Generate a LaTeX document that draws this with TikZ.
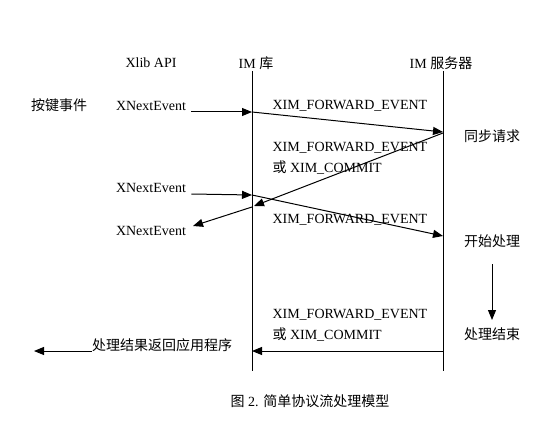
\documentclass[tikz,border=0pt]{standalone}
\usepackage{fontspec}
\setmainfont{Liberation Serif}
\newfontfamily\cjk{Noto Sans CJK SC}
\usetikzlibrary{arrows.meta}

\begin{document}
\begin{tikzpicture}[x=0.75pt, y=-0.75pt, line width=0.75pt,
    msg/.style={-{Triangle[length=7.5pt,width=6pt]}},
    lbl/.style={font=\fontsize{10.5}{12}\selectfont, inner sep=0pt},
    tag/.style={lbl, anchor=west}]
  \useasboundingbox (0,0) rectangle (548,420);

  \coordinate (libtop) at (252,71);
  \coordinate (libbot) at (252,371);
  \coordinate (srvtop) at (443,71);
  \coordinate (srvbot) at (443,371);

  \coordinate (lib1) at (252,112);
  \coordinate (srv1) at (443,132);
  \coordinate (srv2) at (443,133);
  \coordinate (lib2) at (254,206);
  \coordinate (lib3) at (252,195);
  \coordinate (srv3) at (443,236);
  \coordinate (lib4) at (252,207);
  \coordinate (xlib4) at (193,226);
  \coordinate (srv5) at (443,351);
  \coordinate (lib5) at (252,351);
  \coordinate (appout) at (34,351);
  \coordinate (procA) at (492,264);
  \coordinate (procB) at (492,320);

  \node[lbl] (xlib) at (151,63) {Xlib API};
  \node[lbl] (imlib) at (256,63) {IM {\cjk 库}};
  \node[lbl] (imsrv) at (441,63) {IM {\cjk 服务器}};

  \draw (libtop) -- (libbot);
  \draw (srvtop) -- (srvbot);

  \node[lbl] (keyev) at (59,105) {\cjk 按键事件};
  \node[lbl] (next1) at (151,106) {XNextEvent};
  \node[lbl] (next2) at (151,188) {XNextEvent};
  \node[lbl] (next3) at (151,231) {XNextEvent};

  \node[tag] (fwd1) at (272,106) {XIM\_FORWARD\_EVENT};
  \node[tag] (fwd2a) at (272,148) {XIM\_FORWARD\_EVENT};
  \node[tag] (fwd2b) at (272,168) {{\cjk 或} XIM\_COMMIT};
  \node[tag] (fwd3) at (272,220) {XIM\_FORWARD\_EVENT};
  \node[tag] (fwd4a) at (272,315) {XIM\_FORWARD\_EVENT};
  \node[tag] (fwd4b) at (272,335) {{\cjk 或} XIM\_COMMIT};

  \node[lbl] (sync) at (492,136) {\cjk 同步请求};
  \node[lbl] (start) at (492,241) {\cjk 开始处理};
  \node[lbl] (done) at (492,334) {\cjk 处理结束};
  \node[lbl] (result) at (162,345) {\cjk 处理结果返回应用程序};

  \draw[msg] (next1.east |- lib1) ++(5,0) -- (lib1);
  \draw[msg] (lib1) -- (srv1);
  \draw[msg] (srv2) -- (lib2);
  \draw[msg] (next2.east |- lib3) ++(5,-1) -- (lib3);
  \draw[msg] (lib3) -- (srv3);
  \draw[msg] (lib4) -- (xlib4);
  \draw[msg] (procA) -- (procB);
  \draw[msg] (srv5) -- (lib5);
  \draw[msg] (result.west |- appout) -- (appout);

  \node[lbl] (caption) at (310,401) {{\cjk 图} 2. {\cjk 简单协议流处理模型}};
\end{tikzpicture}
\end{document}
